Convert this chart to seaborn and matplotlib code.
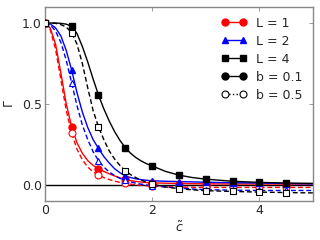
import numpy as np
import pandas as pd
import matplotlib
matplotlib.use("Agg")
import matplotlib.pyplot as plt
from matplotlib.lines import Line2D
import seaborn as sns

# curve sampling points
curve_x = [0.0, 0.1, 0.2, 0.3, 0.4, 0.5, 0.6, 0.7, 0.8, 0.9, 1.0,
           1.1, 1.2, 1.3, 1.4, 1.5, 1.6, 1.7, 1.8, 1.9, 2.0,
           2.25, 2.5, 2.75, 3.0, 3.5, 4.0, 4.5, 5.0]
red_solid = [1.0, 0.97, 0.87, 0.69, 0.50, 0.36, 0.26, 0.195, 0.15, 0.12, 0.10,
             0.083, 0.068, 0.055, 0.043, 0.033, 0.026, 0.021, 0.017, 0.014, 0.012,
             0.010, 0.008, 0.007, 0.006, 0.005, 0.005, 0.005, 0.005]
red_dash = [1.0, 0.96, 0.84, 0.65, 0.46, 0.32, 0.22, 0.155, 0.11, 0.08, 0.06,
            0.045, 0.033, 0.023, 0.015, 0.009, 0.004, 0.0, -0.003, -0.006, -0.008,
            -0.012, -0.014, -0.015, -0.016, -0.016, -0.016, -0.016, -0.016]
blue_solid = [1.0, 0.995, 0.97, 0.92, 0.83, 0.71, 0.57, 0.45, 0.355, 0.28, 0.225,
              0.175, 0.135, 0.10, 0.075, 0.055, 0.045, 0.037, 0.032, 0.028, 0.025,
              0.022, 0.02, 0.018, 0.016, 0.013, 0.011, 0.008, 0.006]
blue_dash = [1.0, 0.99, 0.95, 0.88, 0.77, 0.63, 0.49, 0.37, 0.28, 0.205, 0.15,
             0.11, 0.08, 0.057, 0.04, 0.028, 0.018, 0.01, 0.004, -0.001, -0.005,
             -0.013, -0.02, -0.026, -0.03, -0.033, -0.035, -0.035, -0.035]
black_solid = [1.0, 1.0, 1.0, 0.998, 0.993, 0.98, 0.935, 0.855, 0.76, 0.655, 0.556,
               0.47, 0.395, 0.33, 0.275, 0.23, 0.195, 0.168, 0.147, 0.13, 0.117,
               0.083, 0.06, 0.045, 0.035, 0.022, 0.015, 0.011, 0.009]
black_dash = [1.0, 1.0, 0.998, 0.99, 0.975, 0.94, 0.87, 0.75, 0.60, 0.46, 0.36,
              0.28, 0.21, 0.16, 0.12, 0.088, 0.063, 0.044, 0.029, 0.015, 0.004,
              -0.013, -0.024, -0.031, -0.036, -0.041, -0.045, -0.048, -0.05]

# marker values at c = 0, 0.5, ..., 4.5
mark_x = [0, 0.5, 1.0, 1.5, 2.0, 2.5, 3.0, 3.5, 4.0, 4.5]
red_m01 = [1.0, 0.36, 0.10, 0.033, 0.012, 0.008, 0.006, 0.005, 0.005, 0.005]
red_m05 = [1.0, 0.32, 0.06, 0.009, -0.008, -0.014, -0.016, -0.016, -0.016, -0.016]
blue_m01 = [1.0, 0.71, 0.225, 0.055, 0.025, 0.02, 0.016, 0.013, 0.011, 0.008]
blue_m05 = [1.0, 0.63, 0.15, 0.028, -0.005, -0.02, -0.03, -0.033, -0.035, -0.035]
black_m01 = [1.0, 0.98, 0.556, 0.23, 0.117, 0.06, 0.035, 0.022, 0.015, 0.011]
black_m05 = [1.0, 0.94, 0.36, 0.088, 0.004, -0.024, -0.036, -0.041, -0.045, -0.048]

series = [
    ("red", "o", red_solid, red_m01, red_dash, red_m05),
    ("blue", "^", blue_solid, blue_m01, blue_dash, blue_m05),
    ("black", "s", black_solid, black_m01, black_dash, black_m05),
]

MS = 5.0

sns.set_style("ticks")
plt.rcParams["font.family"] = ["DejaVu Sans"]
plt.rcParams["mathtext.fontset"] = "dejavusans"

fig = plt.figure(figsize=(3.2, 2.4), dpi=100)
ax = fig.add_axes([0.14, 0.1625, 0.838, 0.809])

ax.axhline(0, color="black", lw=1.0, zorder=1)

for color, mk, ls, ms_, ld, md in series:
    sns.lineplot(x=curve_x, y=ls, ax=ax, color=color, lw=1.0,
                 estimator=None, sort=False)
    sns.lineplot(x=curve_x, y=ld, ax=ax, color=color, lw=1.0,
                 estimator=None, sort=False)
    ax.lines[-1].set_linestyle((0, (3.5, 2.0)))
    ax.plot(mark_x, ms_, linestyle="none", marker=mk, markersize=MS,
            color=color, markeredgecolor=color, zorder=3)
    ax.plot(mark_x, md, linestyle="none", marker=mk, markersize=MS,
            markerfacecolor="white", markeredgecolor=color,
            markeredgewidth=0.8, zorder=3)

ax.set_xlim(0, 5)
ax.set_ylim(-0.1, 1.1)
ax.set_xticks([0, 2, 4])
ax.set_yticks([0.0, 0.5, 1.0])
ax.set_yticklabels(["0.0", "0.5", "1.0"])
ax.tick_params(direction="in", top=True, right=True, labelsize=9, length=3,
               width=0.6, color="#888888", pad=2)
for sp in ax.spines.values():
    sp.set_color("#888888")
    sp.set_linewidth(1.0)
ax.set_xlabel(r"$\tilde{c}$", fontsize=9, labelpad=3)
ax.set_ylabel(r"$\Gamma$", fontsize=9, labelpad=4)

handles = [
    Line2D([], [], color="red", marker="o", markersize=MS, lw=1.0),
    Line2D([], [], color="blue", marker="^", markersize=MS, lw=1.0),
    Line2D([], [], color="black", marker="s", markersize=MS, lw=1.0),
    Line2D([], [], color="black", marker="o", markersize=MS, lw=1.0),
    Line2D([], [], color="black", marker="o", markersize=MS, lw=1.0,
           linestyle=":", markerfacecolor="white", markeredgewidth=0.8),
]
labels = ["L = 1", "L = 2", "L = 4", "b = 0.1", "b = 0.5"]
ax.legend(handles, labels, loc="upper right", frameon=False, fontsize=9,
          numpoints=2, handlelength=2.0, labelspacing=0.4, borderaxespad=0.4,
          handletextpad=0.8)

fig.savefig("out.png", dpi=100)
